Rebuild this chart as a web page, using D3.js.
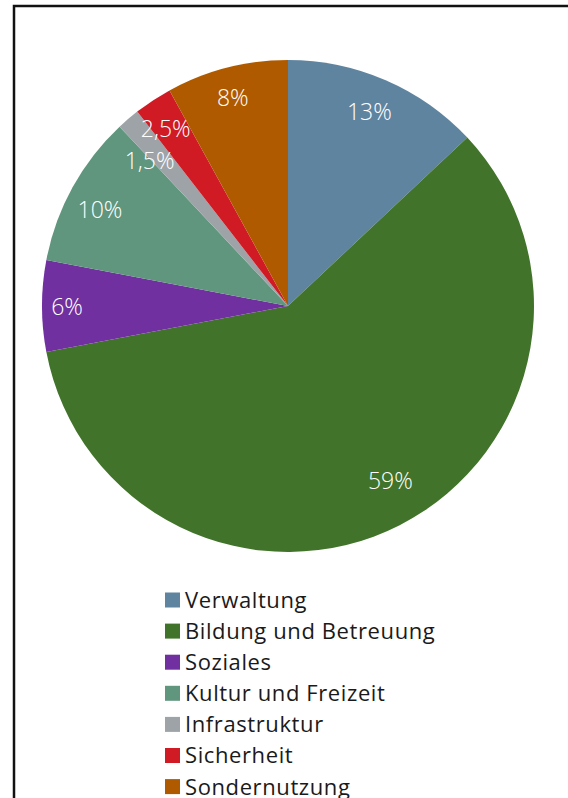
<!DOCTYPE html>
<html>
<head>
<meta charset="utf-8">
<script src="https://cdn.jsdelivr.net/npm/d3@7"></script>
<style>
  body { margin: 0; background: #fff; }
  svg { display: block; }
</style>
</head>
<body>
<div id="chart"></div>
<script>
const WIDTH = 568;
const HEIGHT = 798;
const CX = 288;
const CY = 306;
const RADIUS = 246;
const LABEL_R = 210;

const categories = ["Verwaltung", "Bildung und Betreuung", "Soziales", "Kultur und Freizeit", "Infrastruktur", "Sicherheit", "Sondernutzung"];
const shares = [13, 59, 6, 10, 1.5, 2.5, 8];
const shareLabels = ["13%", "59%", "6%", "10%", "1,5%", "2,5%", "8%"];
const colors = ["#5f849f", "#41742a", "#7030a0", "#5f967d", "#9ea3a8", "#d01a24", "#b05a00"];

// small hand nudges of the percentage labels, like the original layout
const labelNudge = [[-2, -2], [7, -12], [-11, 1], [-4, 5], [-2, 14], [-7, -2], [-3, -5]];
const FONT = "'Open Sans', Lato, sans-serif";

var data = categories.map(function(c, i) {
    return { name: c, value: shares[i], label: shareLabels[i], color: colors[i], nudge: labelNudge[i] };
});

var svg = d3.select("#chart")
    .append("svg")
    .attr("width", WIDTH)
    .attr("height", HEIGHT);

// frame (right and bottom edges run off the picture)
svg.append("path")
    .attr("d", "M14,820 L14,6 L600,6")
    .attr("fill", "none")
    .attr("stroke", "#111")
    .attr("stroke-width", 2.5);

var pie = d3.pie().sort(null).value(function(d) { return d.value; });
var arc = d3.arc().innerRadius(0).outerRadius(RADIUS);
var labelArc = d3.arc().innerRadius(LABEL_R).outerRadius(LABEL_R);

var g = svg.append("g").attr("transform", "translate(" + CX + "," + CY + ")");

var arcs = pie(data);

g.selectAll("path.slice")
    .data(arcs)
    .enter()
    .append("path")
    .attr("class", "slice")
    .attr("d", arc)
    .attr("fill", function(d) { return d.data.color; });

g.selectAll("text.lbl")
    .data(arcs)
    .enter()
    .append("text")
    .attr("class", "lbl")
    .attr("transform", function(d) {
        var c = labelArc.centroid(d);
        return "translate(" + (c[0] + d.data.nudge[0]) + "," + (c[1] + d.data.nudge[1]) + ")";
    })
    .attr("text-anchor", "middle")
    .attr("dy", "0.36em")
    .attr("fill", "#fff")
    .style("font-family", FONT)
    .style("font-weight", 300)
    .style("font-size", "23px")
    .text(function(d) { return d.data.label; });

// legend
var legend = svg.append("g").attr("transform", "translate(165,600)");
var rows = legend.selectAll("g.row")
    .data(data)
    .enter()
    .append("g")
    .attr("class", "row")
    .attr("transform", function(d, i) { return "translate(0," + (i * 31.1) + ")"; });

rows.append("rect")
    .attr("x", 0)
    .attr("y", -7.5)
    .attr("width", 15)
    .attr("height", 15)
    .attr("fill", function(d) { return d.color; });

rows.append("text")
    .attr("x", 20)
    .attr("dy", "0.36em")
    .attr("fill", "#1a1a1a")
    .style("font-family", FONT)
    .style("font-size", "22px")
    .style("letter-spacing", "0.6px")
    .text(function(d) { return d.name; });
</script>
</body>
</html>
